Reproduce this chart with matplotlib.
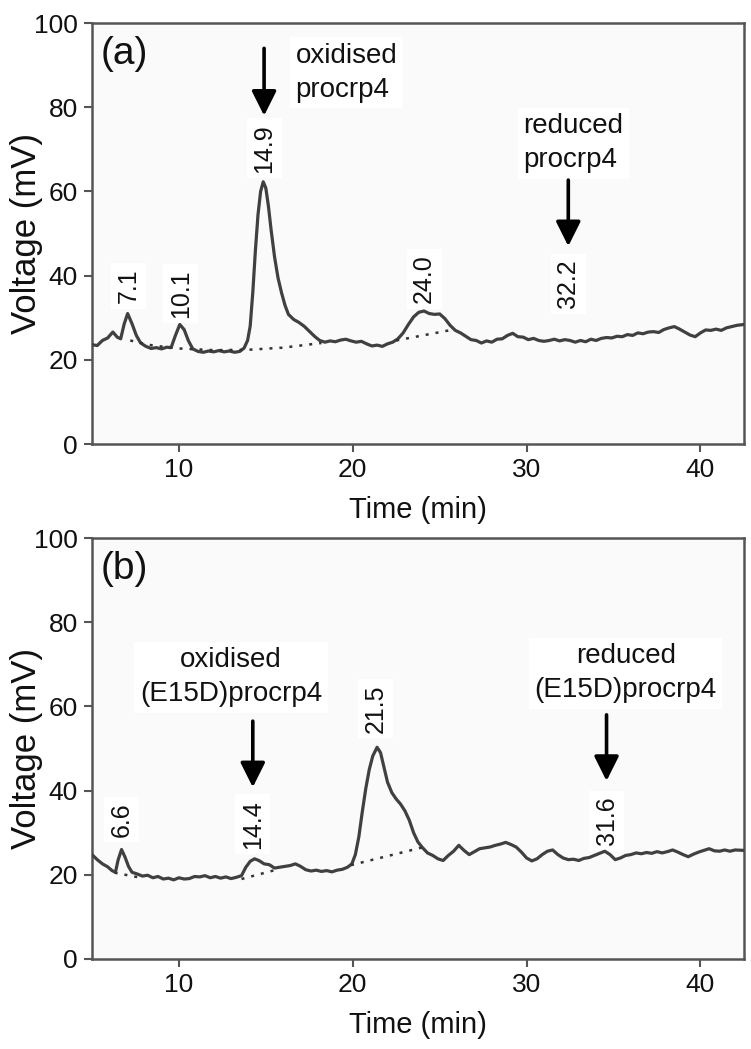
import matplotlib
matplotlib.use("Agg")
import matplotlib.pyplot as plt

# =========================
# DATA
# =========================
# panel (a): procrp4
t_a = [5.0, 5.3, 5.6, 5.9, 6.2, 6.45, 6.65, 6.85, 7.05, 7.3, 7.55, 7.8, 8.1, 8.4, 8.7,
       9.0, 9.3, 9.55, 9.8, 10.05, 10.3, 10.55, 10.8, 11.1, 11.4, 11.7, 12.0, 12.3, 12.6,
       12.9, 13.2, 13.5, 13.75, 13.95, 14.1, 14.25, 14.4, 14.55, 14.7, 14.85, 15.0, 15.15,
       15.3, 15.5, 15.7, 15.9, 16.1, 16.3, 16.6, 16.9, 17.2, 17.5, 17.8, 18.1, 18.4, 18.7,
       19.0, 19.3, 19.6, 19.9, 20.2, 20.5, 20.8, 21.1, 21.4, 21.7, 22.0, 22.3, 22.6, 22.9,
       23.2, 23.5, 23.8, 24.1, 24.4, 24.7, 25.0, 25.3, 25.6, 25.9, 26.2, 26.5, 26.8, 27.1,
       27.4, 27.7, 28.0, 28.3, 28.6, 28.9, 29.2, 29.5, 29.8, 30.1, 30.4, 30.7, 31.0, 31.3,
       31.6, 31.9, 32.2, 32.5, 32.8, 33.1, 33.4, 33.7, 34.0, 34.3, 34.6, 34.9, 35.2, 35.5,
       35.8, 36.1, 36.4, 36.7, 37.0, 37.3, 37.6, 37.9, 38.2, 38.5, 38.8, 39.1, 39.4, 39.7,
       40.0, 40.3, 40.6, 40.9, 41.2, 41.5, 41.8, 42.1, 42.5]
v_a = [23.6, 23.4, 24.6, 25.2, 26.6, 25.4, 25.0, 28.5, 31.0, 28.6, 25.8, 24.0, 23.2, 22.7, 22.9,
       22.6, 23.0, 22.9, 25.8, 28.4, 27.2, 24.5, 22.6, 22.0, 21.8, 22.1, 21.9, 22.2, 21.9,
       22.1, 21.8, 22.0, 22.8, 24.6, 28.0, 36.0, 46.0, 54.5, 60.0, 62.3, 60.8, 56.5,
       51.0, 44.5, 39.5, 36.0, 33.0, 30.8, 29.6, 28.9, 28.0, 26.8, 25.6, 24.6, 24.2, 24.5,
       24.3, 24.7, 24.9, 24.5, 24.2, 24.4, 23.8, 23.3, 23.5, 23.2, 23.8, 24.2, 25.0, 26.4,
       28.4, 30.2, 31.3, 31.6, 31.0, 30.8, 30.9, 29.8, 28.2, 27.0, 26.4, 25.6, 24.8, 24.6,
       24.0, 24.5, 24.2, 24.9, 25.0, 25.8, 26.3, 25.5, 25.4, 24.8, 25.1, 24.6, 24.4, 24.6,
       24.9, 24.5, 24.8, 24.6, 24.2, 24.6, 24.3, 24.9, 24.6, 25.1, 25.3, 25.2, 25.6, 25.5,
       26.0, 25.8, 26.4, 26.2, 26.6, 26.7, 26.5, 27.2, 27.6, 27.9, 27.3, 26.6, 25.9, 25.5,
       26.4, 27.1, 27.0, 27.3, 27.0, 27.6, 27.9, 28.2, 28.4]
base_a = [([7.2, 8.5, 10.0, 12.0, 14.0, 16.0, 18.2], [24.6, 23.4, 22.7, 22.3, 22.4, 22.9, 24.0]),
          ([22.5, 25.8], [24.6, 27.2])]

# panel (b): (E15D)procrp4
t_b = [5.0, 5.3, 5.6, 5.9, 6.15, 6.35, 6.5, 6.7, 6.9, 7.1, 7.3, 7.6, 7.9, 8.2, 8.5, 8.8,
       9.1, 9.4, 9.7, 10.0, 10.3, 10.6, 10.9, 11.2, 11.5, 11.8, 12.1, 12.4, 12.7, 13.0,
       13.3, 13.6, 13.85, 14.1, 14.35, 14.6, 14.9, 15.2, 15.5, 15.8, 16.1, 16.4, 16.7,
       17.0, 17.3, 17.6, 17.9, 18.2, 18.5, 18.8, 19.1, 19.4, 19.7, 19.95, 20.15, 20.35,
       20.55, 20.75, 20.95, 21.15, 21.4, 21.6, 21.8, 22.0, 22.25, 22.5, 22.75, 23.0, 23.25,
       23.5, 23.75, 24.0, 24.3, 24.6, 24.9, 25.2, 25.5, 25.8, 26.1, 26.4, 26.7, 27.0, 27.3,
       27.6, 27.9, 28.2, 28.5, 28.8, 29.1, 29.4, 29.7, 30.0, 30.3, 30.6, 30.9, 31.2, 31.5,
       31.8, 32.1, 32.4, 32.7, 33.0, 33.3, 33.6, 33.9, 34.2, 34.5, 34.8, 35.1, 35.4, 35.7,
       36.0, 36.3, 36.6, 36.9, 37.2, 37.5, 37.8, 38.1, 38.4, 38.7, 39.0, 39.3, 39.6, 39.9,
       40.2, 40.5, 40.8, 41.1, 41.4, 41.7, 42.0, 42.5]
v_b = [24.8, 23.6, 22.6, 21.9, 21.0, 20.6, 23.5, 26.0, 24.2, 22.0, 20.6, 20.2, 19.7, 19.9, 19.3, 19.6,
       19.0, 19.2, 18.8, 19.3, 19.0, 19.1, 19.6, 19.5, 19.8, 19.3, 19.6, 19.2, 19.5, 19.1,
       19.4, 19.8, 21.8, 23.2, 23.8, 23.4, 22.6, 22.4, 21.6, 21.8, 22.0, 22.2, 22.6,
       22.0, 21.2, 20.9, 21.1, 20.8, 21.0, 20.7, 21.1, 21.3, 21.8, 22.6, 24.8, 29.0,
       35.0, 40.5, 45.0, 48.2, 50.3, 49.0, 45.5, 42.0, 39.5, 38.0, 36.8, 35.2, 33.0,
       30.0, 27.8, 26.5, 25.2, 24.6, 23.8, 23.4, 24.6, 25.6, 27.0, 25.8, 24.8, 25.5, 26.2,
       26.4, 26.6, 27.0, 27.3, 27.7, 27.2, 26.6, 25.4, 24.0, 23.3, 23.8, 24.8, 25.6, 25.9,
       24.8, 24.0, 23.6, 23.7, 23.4, 23.9, 24.1, 24.6, 25.1, 25.6, 24.8, 23.6, 24.0, 24.6,
       24.8, 25.2, 25.0, 25.3, 25.1, 25.5, 25.2, 25.5, 25.9, 25.4, 24.8, 24.3, 24.9, 25.4,
       25.8, 26.2, 25.7, 25.6, 25.9, 25.6, 25.9, 25.8]
base_b = [([6.3, 7.8], [20.5, 19.3]),
          ([13.6, 15.6], [19.0, 21.2]),
          ([19.9, 24.0], [22.3, 26.5])]

# peak labels: (text, x, y of label bottom)
peaks_a = [("7.1", 7.1, 33.5), ("10.1", 10.1, 30.0), ("14.9", 14.9, 64.5),
           ("24.0", 24.1, 33.5), ("32.2", 32.4, 32.2)]
peaks_b = [("6.6", 6.7, 29.0), ("14.4", 14.25, 26.2), ("21.5", 21.3, 53.8),
           ("31.6", 34.6, 27.0)]

# arrows: (x, y_top, y_tip)
arrows_a = [(14.9, 94.0, 78.0), (32.4, 62.7, 47.0)]
arrows_b = [(14.25, 56.5, 40.8), (34.6, 58.0, 42.3)]

# species labels: (text, x, y, ha)
notes_a = [("oxidised\nprocrp4", 16.7, 88.2, "left"),
           ("reduced\nprocrp4", 29.8, 71.4, "left")]
notes_b = [("oxidised\n(E15D)procrp4", 13.0, 66.9, "center"),
           ("reduced\n(E15D)procrp4", 35.7, 67.9, "center")]

# =========================
# PLOT
# =========================
plt.rcParams["font.family"] = ["Liberation Sans", "DejaVu Sans"]

fig = plt.figure(figsize=(7.51, 10.49), dpi=100)
ax_a = fig.add_axes([0.1225, 0.5767, 0.868, 0.4013])
ax_b = fig.add_axes([0.1225, 0.0858, 0.868, 0.4013])

WHITE = dict(facecolor="white", edgecolor="none", pad=4)

panels = [
    (ax_a, "(a)", t_a, v_a, base_a, peaks_a, arrows_a, notes_a),
    (ax_b, "(b)", t_b, v_b, base_b, peaks_b, arrows_b, notes_b),
]

for ax, tag, t, v, base, peaks, arrows, notes in panels:
    ax.set_facecolor("#fafafa")

    # white patches behind labels go first so the trace sits on top
    for txt, x, y in peaks:
        ax.text(x, y, txt, rotation=90, ha="center", va="bottom",
                fontsize=18, color="#111111", bbox=WHITE, zorder=2)
    for txt, x, y, ha in notes:
        ax.text(x, y, txt, ha=ha, va="center", fontsize=20,
                color="#111111", linespacing=1.4, bbox=WHITE, zorder=2)

    ax.plot(t, v, color="#404040", linewidth=2.3, zorder=3)
    for bx, by in base:
        ax.plot(bx, by, color="#333333", linestyle=(0, (1.2, 2.8)),
                linewidth=1.8, zorder=3)

    for x, y0, y1 in arrows:
        ax.annotate("", xy=(x, y1), xytext=(x, y0),
                    arrowprops=dict(arrowstyle="-|>,head_length=0.5,head_width=0.25",
                                    color="black", lw=2.6, mutation_scale=30,
                                    shrinkA=0, shrinkB=0), zorder=4)

    ax.text(5.5, 92.6, tag, fontsize=28, ha="left", va="center", color="#111111")

    ax.set_xlim(5, 42.5)
    ax.set_ylim(0, 100)
    ax.set_xticks([10, 20, 30, 40])
    ax.set_yticks([0, 20, 40, 60, 80, 100])
    ax.tick_params(direction="out", length=6, width=1.5, color="#555555",
                   labelsize=19, labelcolor="#111111", pad=4)
    for sp in ax.spines.values():
        sp.set_color("#555555")
        sp.set_linewidth(1.8)

    ax.set_xlabel("Time (min)", fontsize=21, color="#111111", labelpad=10)
    ax.set_ylabel("Voltage (mV)", fontsize=25, color="#111111")
    ax.yaxis.set_label_coords(-0.075, 0.5)

fig.savefig("out.png", dpi=100)
